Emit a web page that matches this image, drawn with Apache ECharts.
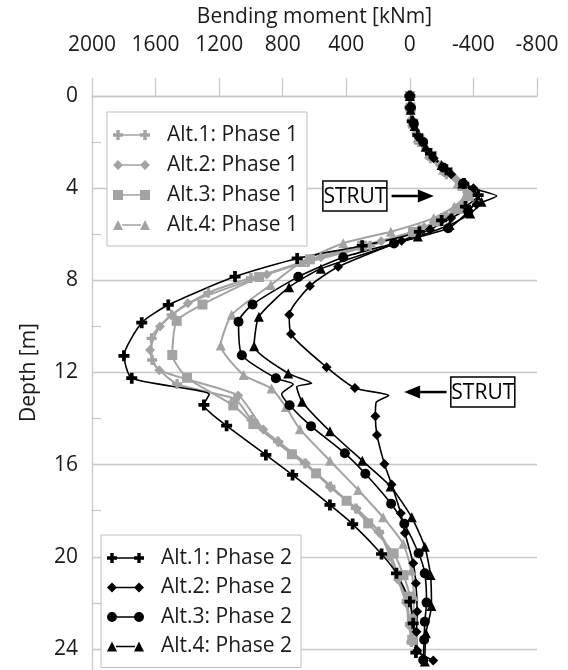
<!DOCTYPE html>
<html>
<head>
<meta charset="utf-8">
<script src="https://cdn.jsdelivr.net/npm/echarts@6/dist/echarts.min.js"></script>
<style>
  html, body { margin: 0; padding: 0; background: #fff; }
  #chart { width: 568px; height: 670px; }
</style>
</head>
<body>
<div id="chart"></div>
<script>
// bending moment [kNm], depth [m]
const alt1P1 = [[0,0],[-4,0.6],[-18,1.3],[-55,2.0],[-130,2.7],[-230,3.4],[-330,3.9],[-380,4.3],[-320,4.8],[-200,5.3],[-60,5.8],[250,6.5],[640,7.2],[1000,7.9],[1268,8.54],[1499,9.5],[1625,10.52],[1622,11.46],[1465,12.5],[1100,13.15],[996,14.06],[830,15.0],[660,15.95],[500,16.95],[340,17.9],[195,18.9],[120,19.9],[70,20.9],[20,21.9],[0,22.9],[-10,23.7]];
const alt2P1 = [[0,0],[-3,0.4],[-12,1.0],[-40,1.6],[-100,2.3],[-190,3.0],[-290,3.6],[-360,4.2],[-340,4.6],[-230,5.2],[-90,5.7],[180,6.3],[560,7.0],[900,7.75],[1397,9.0],[1572,10.0],[1635,11.02],[1577,11.9],[1080,13.0],[922,14.48],[825,15.02],[655,15.94],[497,17.0],[335,17.92],[190,18.97],[125,20.0],[75,21.0],[25,22.0],[2,23.0],[-10,23.7]];
const alt3P1 = [[0,0],[-4,0.5],[-20,1.2],[-60,1.9],[-140,2.6],[-240,3.3],[-330,3.9],[-370,4.35],[-300,4.9],[-170,5.45],[-20,5.9],[300,6.5],[629,7.09],[948,7.86],[1305,9.05],[1467,9.76],[1495,11.24],[1402,12.23],[1111,13.43],[985,14.24],[742,15.55],[590,16.38],[398,17.57],[262,18.55],[102,19.85],[40,20.8],[0,21.73],[-12,22.7],[-15,23.6]];
const alt4P1 = [[0,0],[-4,0.5],[-15,1.1],[-50,1.8],[-120,2.5],[-210,3.2],[-300,3.8],[-350,4.3],[-280,4.8],[-150,5.3],[120,5.89],[419,6.39],[680,7.2],[875,8.2],[1121,9.5],[1190,10.83],[1046,12.11],[870,12.7],[780,13.5],[692,14.46],[503,15.83],[325,17.1],[168,18.29],[42,19.44],[-10,20.6],[-25,21.7],[-20,22.7],[-12,23.6]];

const alt1P2 = [[0,0],[-2,0.5],[-15,1.1],[-50,1.7],[-130,2.5],[-230,3.2],[-340,3.8],[-430,4.3],[-350,4.8],[-200,5.4],[-60,5.9],[300,6.5],[709,7.05],[1100,7.84],[1520,9.07],[1687,9.84],[1799,11.28],[1750,12.25],[1296,13.41],[1153,14.31],[906,15.58],[738,16.45],[503,17.75],[360,18.58],[178,19.88],[84,20.72],[0,21.95],[-21,22.89],[-38,24.16]];
const alt2P2 = [[0,0],[-3,0.5],[-18,1.1],[-55,1.8],[-150,2.7],[-260,3.4],[-400,4.0],[-420,4.7],[-260,5.3],[-126,5.8],[52,6.28],[451,7.41],[629,8.25],[759,9.5],[748,10.33],[524,11.77],[346,12.67],[217,13.9],[207,14.71],[160,15.97],[115,16.86],[57,18.11],[31,18.97],[-21,20.28],[-38,21.15],[-46,22.38],[-42,23.25],[-46,24.07],[-147,24.5]];
const alt3P2 = [[0,0],[-5,0.5],[-25,1.2],[-84,2.0],[-210,3.1],[-335,3.8],[-367,5.02],[-241,5.74],[100,6.4],[419,7.0],[702,7.85],[990,9.05],[1078,9.8],[1057,11.25],[843,12.25],[757,13.42],[622,14.33],[409,15.51],[280,16.4],[118,17.7],[35,18.57],[-55,19.85],[-94,20.72],[-105,21.99],[-94,22.82],[-90,23.6],[-84,24.48]];
const alt4P2 = [[0,0],[-5,0.6],[-30,1.3],[-100,2.2],[-200,3.0],[-330,3.8],[-451,4.59],[-380,5.1],[-250,5.6],[-50,6.1],[560,7.5],[760,8.3],[950,9.58],[980,10.86],[765,12.04],[678,13.27],[503,14.55],[299,15.83],[121,16.95],[-12,18.29],[-94,19.57],[-130,20.79],[-136,22.14],[-101,23.32],[-94,24.55]];

// line-only points (no marker) at the struts
const alt1P2Kinks = [[1262,12.95]];
const alt2P2Kinks = [[-546,4.34],[133,13.0],[212,13.3]];
const alt3P2Kinks = [[-430,4.35],[734,12.51],[807,12.93]];
const alt4P2Kinks = [[618,12.47],[712,12.62]];

const phase1Names = ['Alt.1: Phase 1', 'Alt.2: Phase 1', 'Alt.3: Phase 1', 'Alt.4: Phase 1'];
const phase2Names = ['Alt.1: Phase 2', 'Alt.2: Phase 2', 'Alt.3: Phase 2', 'Alt.4: Phase 2'];
const xTicks = { min: -800, max: 2000, step: 400 };
const yTicks = { min: 0, max: 26, step: 4, lastLabel: 24 };

const strutNotes = [
  { text: 'STRUT', box: [346, 4.34], from: [115, 4.34], to: [-151, 4.34] },
  { text: 'STRUT', box: [-459, 12.85], from: [-231, 12.85], to: [36, 12.85] },
];

const FONT = '"Open Sans", "Noto Sans", sans-serif';
const TXT = '#1a1a1a';
const GRID = '#c8c8c8';
const GRAY = '#a3a3a3';

const plusPath = 'path://M3.3,0H6.7V3.3H10V6.7H6.7V10H3.3V6.7H0V3.3H3.3Z';
const markers = [plusPath, 'diamond', 'circle', 'triangle'];
const markersP1 = [plusPath, 'diamond', 'rect', 'triangle'];

// legend icons: marker - line - marker, drawn in a 37x10 box
const bar = 'M9,4.2H28V5.8H9Z';
const legendIconsP1 = [
  'path://M3.3,0H6.7V3.3H10V4.2H27V3.3H30.3V0H33.7V3.3H37V6.7H33.7V10H30.3V6.7H27V5.8H10V6.7H6.7V10H3.3V6.7H0V3.3H3.3Z',
  'path://M0,5L5,0L10,5L5,10Z' + bar + 'M27,5L32,0L37,5L32,10Z',
  'path://M0,0H10V10H0Z' + bar + 'M27,0H37V10H27Z',
  'path://M5,0L10,10H0Z' + bar + 'M32,0L37,10H27Z',
];
const legendIconsP2 = [
  legendIconsP1[0],
  legendIconsP1[1],
  'path://M0,5A5,5 0 1 1 10,5A5,5 0 1 1 0,5Z' + bar + 'M27,5A5,5 0 1 1 37,5A5,5 0 1 1 27,5Z',
  legendIconsP1[3],
];

function withKinks(points, kinks) {
  const items = points.map(p => ({ value: p }));
  (kinks || []).forEach(k => items.push({ value: k, symbol: 'none' }));
  return items.sort((a, b) => a.value[1] - b.value[1]);
}

function makeSeries(name, points, kinks, symbol, color, width, size) {
  return {
    name: name,
    type: 'line',
    data: withKinks(points, kinks),
    symbol: symbol,
    symbolSize: size,
    smooth: 0.2,
    showAllSymbol: true,
    lineStyle: { color: color, width: width },
    itemStyle: { color: color, borderWidth: 0 },
    emphasis: { disabled: true },
    animation: false,
  };
}

const series = [
  makeSeries(phase1Names[0], alt1P1, null, markersP1[0], GRAY, 2, 10),
  makeSeries(phase1Names[1], alt2P1, null, markersP1[1], GRAY, 2, 10),
  makeSeries(phase1Names[2], alt3P1, null, markersP1[2], GRAY, 2, 10),
  makeSeries(phase1Names[3], alt4P1, null, markersP1[3], GRAY, 2, 10),
  makeSeries(phase2Names[0], alt1P2, alt1P2Kinks, markers[0], '#000', 1.6, 11),
  makeSeries(phase2Names[1], alt2P2, alt2P2Kinks, markers[1], '#000', 1.6, 10),
  makeSeries(phase2Names[2], alt3P2, alt3P2Kinks, markers[2], '#000', 1.6, 10),
  makeSeries(phase2Names[3], alt4P2, alt4P2Kinks, markers[3], '#000', 1.6, 10),
];

function legendBox(names, icons, left, top, gap) {
  return {
    data: names.map((n, i) => ({ name: n, icon: icons[i] })),
    orient: 'vertical',
    left: left,
    top: top,
    itemWidth: 37,
    itemHeight: 10,
    itemGap: gap,
    padding: [12, 9, 10, 6],
    backgroundColor: '#fff',
    borderColor: '#bfbfbf',
    borderWidth: 1,
    selectedMode: false,
    itemStyle: { borderWidth: 0 },
    textStyle: { fontFamily: FONT, fontSize: 21, color: TXT, lineHeight: 22, padding: [0, 0, 0, 12] },
    z: 10,
  };
}

const chart = echarts.init(document.getElementById('chart'), null, { renderer: 'canvas' });

chart.setOption({
  animation: false,
  backgroundColor: '#fff',
  grid: { left: 92, top: 96, width: 445, height: 599, containLabel: false, outerBoundsMode: 'none' },
  xAxis: {
    type: 'value',
    position: 'top',
    inverse: true,
    min: xTicks.min,
    max: xTicks.max,
    interval: xTicks.step,
    name: 'Bending moment [kNm]',
    nameLocation: 'middle',
    nameGap: 68,
    nameTextStyle: { fontFamily: FONT, fontSize: 21, color: TXT },
    axisLine: { show: true, onZero: false, lineStyle: { color: GRID, width: 1.3 } },
    axisTick: { show: true, length: 18, lineStyle: { color: GRID, width: 1.3 } },
    axisLabel: { margin: 40, fontFamily: FONT, fontSize: 21, color: TXT, formatter: v => String(v) },
    splitLine: { show: false },
  },
  yAxis: {
    type: 'value',
    position: 'left',
    inverse: true,
    min: yTicks.min,
    max: yTicks.max,
    interval: yTicks.step,
    name: 'Depth [m]',
    nameLocation: 'middle',
    nameGap: 52,
    nameTextStyle: { fontFamily: FONT, fontSize: 21, color: TXT, padding: [0, 0, 0, 46] },
    axisLine: { show: true, onZero: false, lineStyle: { color: GRID, width: 1.3 } },
    axisTick: { show: false, inside: true },
    minorTick: { show: true, splitNumber: 2, length: 9, lineStyle: { color: GRID, width: 1.3 } },
    axisLabel: {
      margin: 14, fontFamily: FONT, fontSize: 21, color: TXT,
      formatter: v => (v % yTicks.step === 0 && v <= yTicks.lastLabel ? String(v) : ''),
    },
    splitLine: { show: true, lineStyle: { color: GRID, width: 1.3 } },
  },
  legend: [
    legendBox(phase1Names, legendIconsP1, 107, 112, 8),
    legendBox(phase2Names, legendIconsP2, 101, 535, 7.5),
  ],
  series: series,
});

// STRUT labels with arrows, placed in data coordinates
const graphics = [];
strutNotes.forEach(note => {
  const c = chart.convertToPixel({ xAxisIndex: 0, yAxisIndex: 0 }, note.box);
  const a = chart.convertToPixel({ xAxisIndex: 0, yAxisIndex: 0 }, note.from);
  const b = chart.convertToPixel({ xAxisIndex: 0, yAxisIndex: 0 }, note.to);
  const dir = Math.sign(b[0] - a[0]);
  const headLen = 16;
  graphics.push({
    type: 'rect', z: 20,
    shape: { x: c[0] - 32, y: c[1] - 15, width: 64, height: 30 },
    style: { fill: '#fff', stroke: '#000', lineWidth: 1.5 },
  });
  graphics.push({
    type: 'text', z: 21,
    style: { text: note.text, x: c[0], y: c[1] + 1, align: 'center', verticalAlign: 'middle', fontFamily: FONT, fontSize: 21, fill: '#000' },
  });
  graphics.push({
    type: 'line', z: 20,
    shape: { x1: a[0], y1: a[1], x2: b[0] - dir * headLen, y2: b[1] },
    style: { stroke: '#000', lineWidth: 2.5 },
  });
  graphics.push({
    type: 'polygon', z: 20,
    shape: { points: [[b[0], b[1]], [b[0] - dir * headLen, b[1] - 6.5], [b[0] - dir * headLen, b[1] + 6.5]] },
    style: { fill: '#000' },
  });
});
chart.setOption({ graphic: graphics });
</script>
</body>
</html>
